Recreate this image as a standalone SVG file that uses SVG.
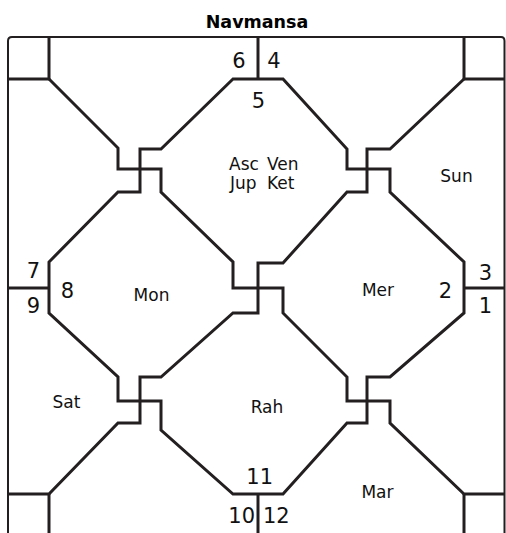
<svg xmlns="http://www.w3.org/2000/svg" width="506" height="533" viewBox="0 0 506 533">
  <style>
    .ln { fill: none; stroke: #231f20; stroke-width: 3; stroke-linejoin: miter; stroke-linecap: butt; }
    .num { font-family: "DejaVu Sans", Verdana, sans-serif; font-size: 21px; fill: #111; text-anchor: middle; }
    .lbl { font-family: "DejaVu Sans", Verdana, sans-serif; font-size: 17px; fill: #111; text-anchor: middle; }
    .lbs { font-family: "DejaVu Sans", Verdana, sans-serif; font-size: 17px; fill: #111; }
    .title { font-family: "DejaVu Sans", Verdana, sans-serif; font-size: 17.5px; font-weight: bold; fill: #000; text-anchor: middle; }
  </style>
  <rect width="506" height="533" fill="#fff"/>
  <text class="title" x="257" y="28">Navmansa</text>
  <g id="connectors">
    <path class="ln" d="M8,533 V41 Q8,37 12,37 H501 Q504.5,37 504.5,41 V533" style="stroke-width:2"/>
    <path class="ln" d="M49,37 V79 H8"/>
    <path class="ln" d="M258,37 V79"/>
    <path class="ln" d="M464,37 V79 H505"/>
    <path class="ln" d="M8,288 H49"/>
    <path class="ln" d="M464,288 H505"/>
    <path class="ln" d="M49,494 V533"/>
    <path class="ln" d="M258,494 V533"/>
    <path class="ln" d="M464,494 V533"/>
    <path class="ln" d="M49,79 L118,148 V169 H161 V192 L233,262 V288 H283 V313 L347,377 V401 H390 V423 L464,494 H505"/>
    <path class="ln" d="M464,79 L390,149 H367 V192 H347 L283,263 H258 V313 H233 L161,377 H140 V423 H118 L49,494 H8"/>
    <path class="ln" d="M233,79 L161,149 H140 V192 H118 L49,262 V313 L118,377 V401 H161 V430 L233,494 H283 L347,423 H367 V377 H390 L464,313 V262 L390,192 V169 H347 V149 L283,79 Z"/>
  </g>
  <g id="house1"><text class="num" x="485.5" y="313">1</text></g>
  <g id="house2"><text class="num" x="445.5" y="298">2</text><text class="lbl" x="378" y="296">Mer</text></g>
  <g id="house3"><text class="num" x="485.5" y="280">3</text><text class="lbl" x="456.5" y="182">Sun</text></g>
  <g id="house4"><text class="num" x="274" y="68">4</text></g>
  <g id="house5"><text class="num" x="258.5" y="108">5</text>
    <text class="lbs" y="170"><tspan x="229">Asc</tspan><tspan x="267">Ven</tspan></text>
    <text class="lbs" y="189"><tspan x="230">Jup</tspan><tspan x="267">Ket</tspan></text>
  </g>
  <g id="house6"><text class="num" x="239" y="68">6</text></g>
  <g id="house7"><text class="num" x="33.5" y="278">7</text></g>
  <g id="house8"><text class="num" x="67.5" y="298">8</text><text class="lbl" x="151.5" y="301">Mon</text></g>
  <g id="house9"><text class="num" x="33.5" y="313">9</text><text class="lbl" x="66.5" y="408">Sat</text></g>
  <g id="house10"><text class="num" x="241.7" y="523">10</text></g>
  <g id="house11"><text class="num" x="259.7" y="484">11</text><text class="lbl" x="267" y="413">Rah</text></g>
  <g id="house12"><text class="num" x="276.3" y="523">12</text><text class="lbl" x="377.5" y="498">Mar</text></g>
</svg>
